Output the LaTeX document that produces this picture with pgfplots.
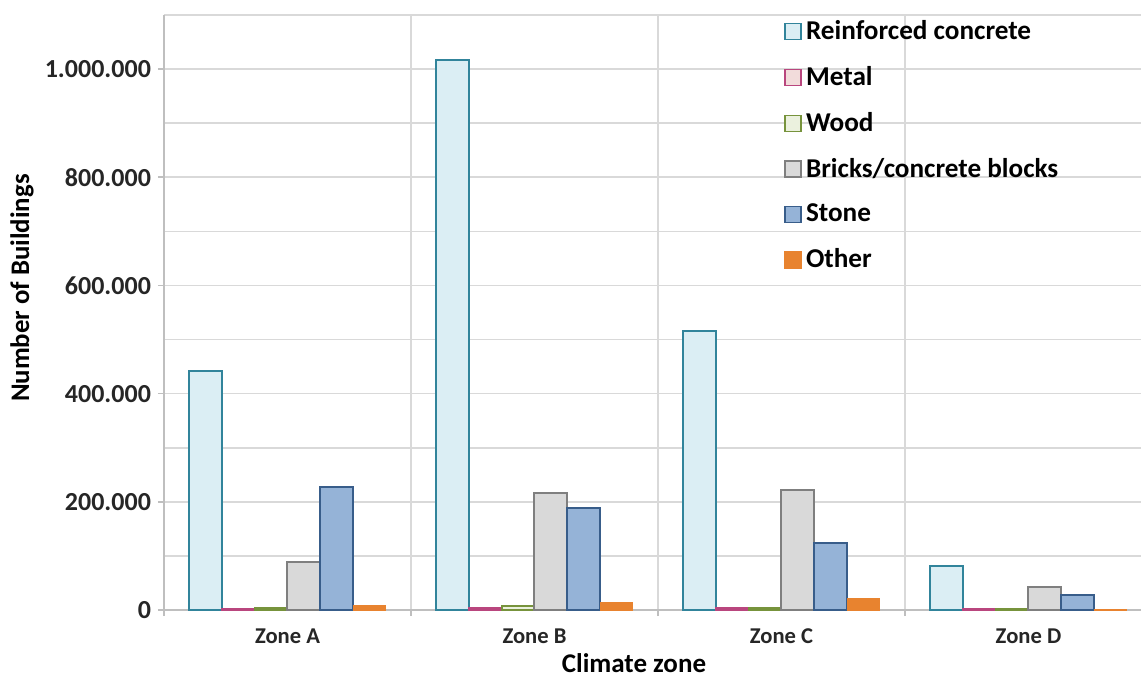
\documentclass[border=0pt]{standalone}
\usepackage{pgfplots}
\pgfplotsset{compat=1.18}
\usepackage{fontspec}
\setmainfont{Carlito}

\definecolor{rcfill}{HTML}{DBEEF4}\definecolor{rcdraw}{HTML}{31849B}
\definecolor{mefill}{HTML}{F2DCDB}\definecolor{medraw}{HTML}{B9467E}
\definecolor{wofill}{HTML}{EBF1DE}\definecolor{wodraw}{HTML}{77933C}
\definecolor{brfill}{HTML}{D9D9D9}\definecolor{brdraw}{HTML}{7F7F7F}
\definecolor{stfill}{HTML}{95B3D7}\definecolor{stdraw}{HTML}{385D8A}
\definecolor{otfill}{HTML}{E8832F}
\definecolor{gridgray}{HTML}{D9D9D9}
\definecolor{axisgray}{HTML}{BFBFBF}

% Buildings per climate zone (0 = Zone A ... 3 = Zone D)
\pgfplotstableread{
x  rc       metal  wood  bricks  stone   other
0  442000   2000   3000  89000   228000  8000
1  1016000  4000   7000  216000  189000  14000
2  515000   4000   3000  222000  123000  21500
3  81500    1000   2500  43000   27500   1500
}\zonedata

\begin{document}
\begin{tikzpicture}
\path[use as bounding box] (-82pt,-32.5pt) rectangle (488.5pt,305pt);
\begin{axis}[
  scale only axis,
  width=494pt, height=297.5pt,
  ybar=0pt, bar width=16.4pt,
  xmin=-0.5, xmax=3.5, ymin=0, ymax=1100000,
  enlargelimits=false,
  axis x line*=bottom, axis y line*=left,
  axis line style={draw=axisgray, line width=0.8pt, -},
  xtick={0,1,2,3},
  xticklabels={Zone A,Zone B,Zone C,Zone D},
  minor xtick={-0.5,0.5,1.5,2.5,3.5},
  ytick={0,200000,400000,600000,800000,1000000},
  yticklabels={0,200.000,400.000,600.000,800.000,1.000.000},
  minor ytick={100000,300000,500000,700000,900000,1100000},
  ymajorgrids, yminorgrids, xminorgrids,
  grid style={draw=gridgray, line width=0.8pt},
  minor grid style={draw=gridgray, line width=0.8pt},
  tick align=outside,
  major tick length=3pt, minor tick length=3pt,
  major x tick style={draw=none},
  minor x tick style={draw=axisgray, line width=0.8pt},
  major y tick style={draw=axisgray, line width=0.8pt},
  minor y tick style={draw=none},
  /pgf/number format/assume math mode=true,
  yticklabel style={font=\fontsize{13}{15}\selectfont\bfseries, text=black!85},
  xticklabel style={font=\fontsize{11.3}{13}\selectfont\bfseries, text=black!85, yshift=-3pt},
  xlabel={Climate zone},
  ylabel={Number of Buildings},
  every axis x label/.style={at={(axis description cs:0.4757,-0.089)}, anchor=center,
    font=\fontsize{13.5}{15}\selectfont\bfseries},
  every axis y label/.style={at={(axis description cs:-0.1437,0.541)}, anchor=center,
    rotate=90, font=\fontsize{13.4}{15}\selectfont\bfseries},
  legend style={at={(axis description cs:0.6215,0.998)}, anchor=north west,
    draw=none, fill=none, row sep=11.9pt,
    font=\fontsize{13.6}{15}\selectfont\bfseries,
    nodes={inner xsep=2pt, inner ysep=0pt}},
  legend cell align=left,
  legend image code/.code={\draw[#1, line width=0.8pt] (0pt,-4pt) rectangle (8pt,4pt);},
]
\addplot[fill=rcfill, draw=rcdraw, line width=1pt] table[x=x, y=rc] {\zonedata};
\addplot[fill=mefill, draw=medraw, line width=1pt] table[x=x, y=metal] {\zonedata};
\addplot[fill=wofill, draw=wodraw, line width=1pt] table[x=x, y=wood] {\zonedata};
\addplot[fill=brfill, draw=brdraw, line width=1pt] table[x=x, y=bricks] {\zonedata};
\addplot[fill=stfill, draw=stdraw, line width=1pt] table[x=x, y=stone] {\zonedata};
\addplot[fill=otfill, draw=otfill, line width=0.4pt] table[x=x, y=other] {\zonedata};
\legend{Reinforced concrete, Metal, Wood, Bricks/concrete blocks, Stone, Other}
\end{axis}
\end{tikzpicture}
\end{document}
